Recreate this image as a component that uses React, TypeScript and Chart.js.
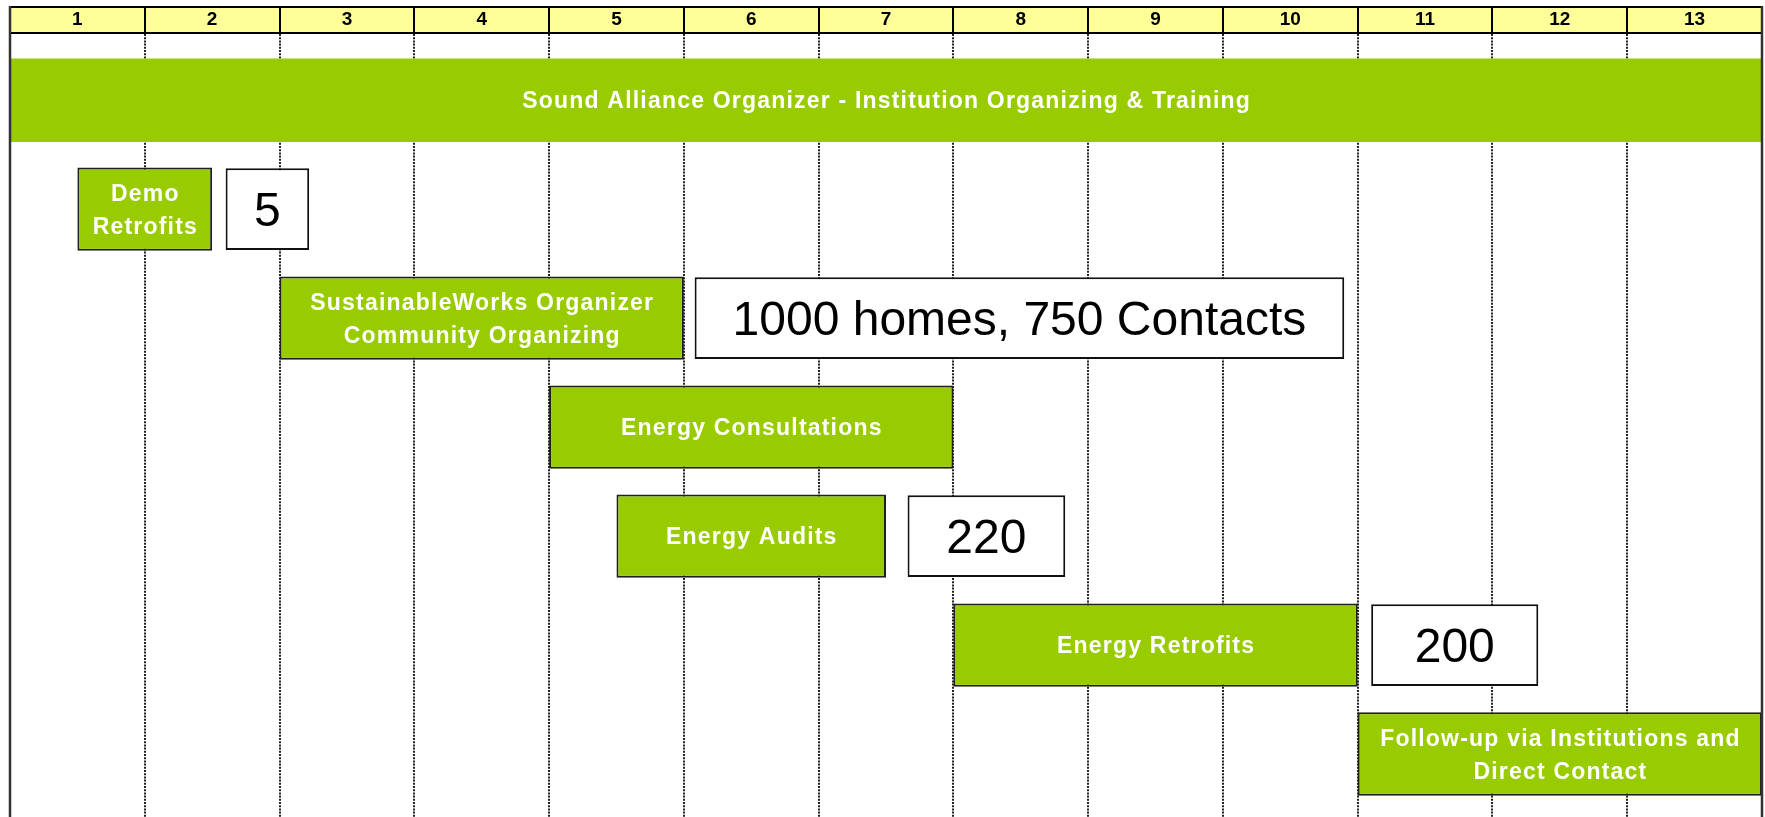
import { useEffect, useRef } from 'react';
import { Chart, registerables } from 'chart.js';

Chart.register(...registerables);

// ---- data ----
const columnLabels = ['1', '2', '3', '4', '5', '6', '7', '8', '9', '10', '11', '12', '13'];

const taskLabels = [
  'Sound Alliance Organizer - Institution Organizing & Training',
  'Demo\nRetrofits',
  'SustainableWorks Organizer\nCommunity Organizing',
  'Energy Consultations',
  'Energy Audits',
  'Energy Retrofits',
  'Follow-up via Institutions and\nDirect Contact',
];
const taskRows = [0, 1, 2, 3, 4, 5, 6];
const taskStarts = [0, 0.5, 2, 4, 4.5, 7, 10];
const taskEnds = [13, 1.5, 5, 7, 6.5, 10, 13];

const noteLabels = ['5', '1000 homes, 750 Contacts', '220', '200'];
const noteRows = [1, 2, 4, 5];
const noteStarts = [1.6, 5.08, 6.66, 10.1];
const noteEnds = [2.22, 9.9, 7.83, 11.34];

// ---- style ----
const FONT = '"Liberation Sans", Arial, Helvetica, sans-serif';
const HEADER_H = 26;
const GREEN = '#99CC00';

function drawLines(ctx: CanvasRenderingContext2D, lines: string[], cx: number, cy: number, size: number, pitch: number) {
  const n = lines.length;
  lines.forEach((line, k) => {
    const baseline = cy + (k - (n - 1) / 2) * pitch + (size * 0.716) / 2;
    ctx.fillText(line, cx, baseline);
  });
}

const ganttPlugin = {
  id: 'ganttDecor',
  beforeDraw(chart: any) {
    const { ctx, chartArea: a } = chart;
    ctx.save();
    ctx.fillStyle = '#FFFF99';
    ctx.fillRect(a.left, a.top - HEADER_H, a.right - a.left, HEADER_H);
    ctx.restore();
  },
  afterDatasetsDraw(chart: any) {
    const ctx: CanvasRenderingContext2D = chart.ctx;
    ctx.save();
    ctx.textAlign = 'center';
    ctx.textBaseline = 'alphabetic';

    // task labels
    const tMeta = chart.getDatasetMeta(0);
    ctx.fillStyle = '#ffffff';
    ctx.font = `bold 23px ${FONT}`;
    (ctx as any).letterSpacing = '1.2px';
    tMeta.data.forEach((el: any, i: number) => {
      const p = el.getProps(['x', 'y', 'base'], true);
      const cx = (p.x + p.base) / 2 + 0.6;
      drawLines(ctx, taskLabels[i].split('\n'), cx, p.y, 23, 33);
    });

    // note labels
    const nMeta = chart.getDatasetMeta(1);
    ctx.fillStyle = '#000000';
    ctx.font = `48px ${FONT}`;
    (ctx as any).letterSpacing = '0px';
    nMeta.data.forEach((el: any, i: number) => {
      const p = el.getProps(['x', 'y', 'base'], true);
      const cx = (p.x + p.base) / 2;
      drawLines(ctx, [noteLabels[i]], cx, p.y, 48, 50);
    });
    ctx.restore();
  },
  afterDraw(chart: any) {
    const { ctx, chartArea: a } = chart;
    ctx.save();
    ctx.strokeStyle = '#000';
    ctx.lineWidth = 2;
    ctx.beginPath();
    ctx.moveTo(a.left, a.top - HEADER_H);
    ctx.lineTo(a.right, a.top - HEADER_H);
    ctx.stroke();
    ctx.strokeStyle = '#333';
    ctx.lineWidth = 2.5;
    ctx.beginPath();
    ctx.moveTo(a.left, a.top - HEADER_H - 1);
    ctx.lineTo(a.left, a.bottom);
    ctx.moveTo(a.right, a.top - HEADER_H - 1);
    ctx.lineTo(a.right, a.bottom);
    ctx.stroke();
    ctx.restore();
  },
};

export default function App() {
  const ref = useRef<HTMLCanvasElement | null>(null);

  useEffect(() => {
    document.body.style.margin = '0';
    document.body.style.overflow = 'hidden';
    const canvas = ref.current!;
    const chart = new Chart(canvas, {
      type: 'bar',
      data: {
        datasets: [
          {
            label: 'Tasks',
            data: taskRows.map((r, i) => ({ x: [taskStarts[i], taskEnds[i]], y: r })) as any,
            backgroundColor: GREEN,
            borderColor: '#1f1f1f',
            borderWidth: ((c: any) => (c.dataIndex === 0 ? 0 : 2)) as any,
            borderSkipped: false,
            grouped: false,
            categoryPercentage: 1,
            barPercentage: 0.765,
            xAxisID: 'x',
            yAxisID: 'y',
          },
          {
            label: 'Notes',
            data: noteRows.map((r, i) => ({ x: [noteStarts[i], noteEnds[i]], y: r })) as any,
            backgroundColor: '#ffffff',
            borderColor: '#111111',
            borderWidth: 2,
            borderSkipped: false,
            grouped: false,
            categoryPercentage: 1,
            barPercentage: 0.75,
            xAxisID: 'x',
            yAxisID: 'y',
          },
        ],
      },
      options: {
        indexAxis: 'y',
        responsive: false,
        animation: false,
        events: [],
        layout: { padding: { left: 10, right: 3, top: 7, bottom: 0 } },
        plugins: {
          legend: { display: false },
          tooltip: { enabled: false },
        },
        scales: {
          x: { type: 'linear', min: 0, max: 13, display: false, offset: false },
          xTop: {
            type: 'category',
            labels: columnLabels,
            position: 'top',
            offset: true,
            grid: {
              offset: true,
              color: '#222',
              lineWidth: 2,
              drawTicks: true,
              tickLength: HEADER_H,
              tickColor: '#000',
              tickWidth: 2,
              tickBorderDash: [],
            },
            border: { display: true, color: '#000', width: 2, dash: [2, 1.2] },
            ticks: {
              font: { family: FONT, size: 19, weight: 'bold', lineHeight: '26px' },
              color: '#000',
              padding: -13,
              crossAlign: 'center',
              maxRotation: 0,
              autoSkip: false,
            },
          } as any,
          y: {
            type: 'linear',
            reverse: true,
            offset: false,
            min: -0.617,
            max: 6.578,
            display: false,
            afterBuildTicks: (s: any) => {
              s.ticks = taskRows.map((value) => ({ value }));
            },
          } as any,
        },
      },
      plugins: [ganttPlugin],
    });
    return () => chart.destroy();
  }, []);

  return (
    <div style={{ width: 1765, height: 817 }}>
      <canvas ref={ref} width={1765} height={817} style={{ display: 'block' }} />
    </div>
  );
}
